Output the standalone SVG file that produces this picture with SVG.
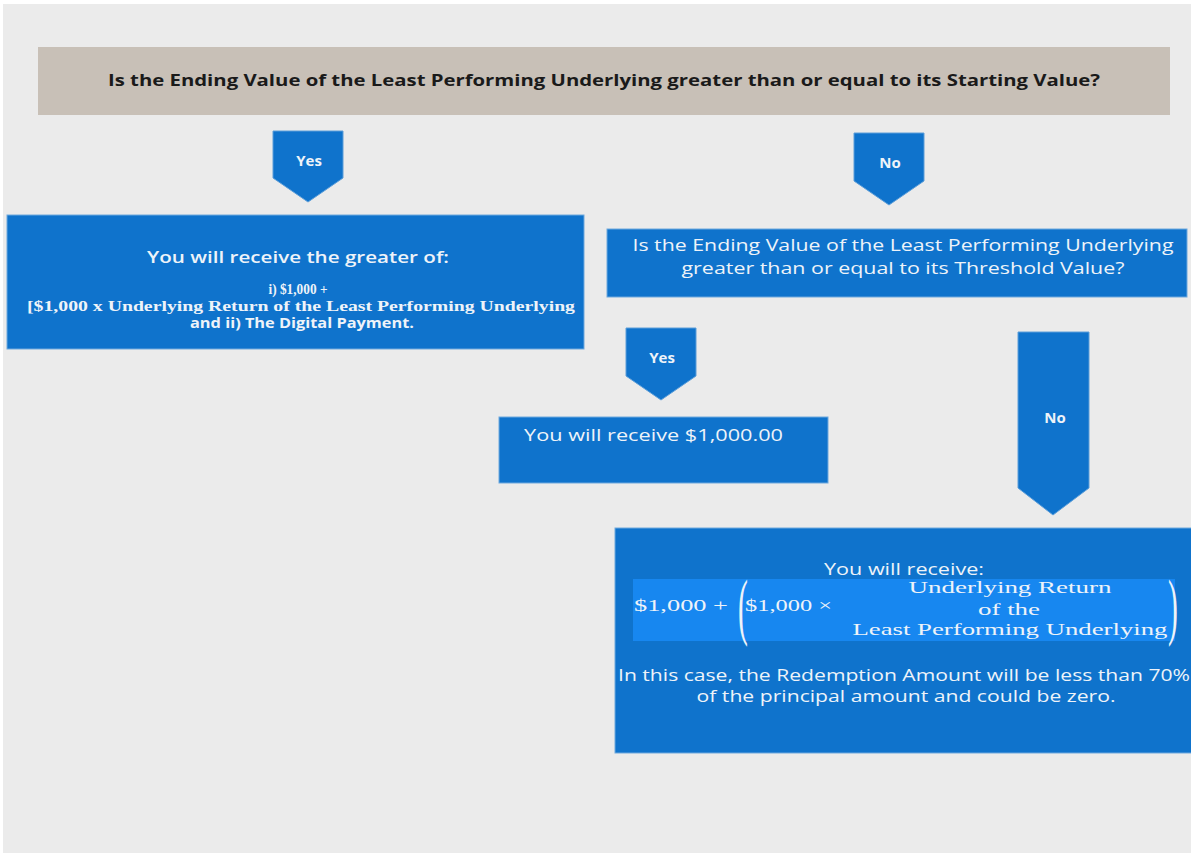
<svg xmlns="http://www.w3.org/2000/svg" width="1191" height="853" viewBox="0 0 1191 853">
<style>
.bg{fill:#ebebeb}
.top{fill:#c8c0b7}
.box{fill:#0f73cc;stroke:#6fa9de;stroke-width:1}
.arrow{fill:#0f73cc;stroke:#5c9ed9;stroke-width:1}
.band{fill:#1787f0}
.t{font-family:"Open Sans","Liberation Sans",sans-serif;fill:#eef3f9}
.tb{font-family:"Open Sans","Liberation Sans",sans-serif;font-weight:bold;fill:#1a1a1a}
.lbl{font-family:"Open Sans","Liberation Sans",sans-serif;font-weight:bold;fill:#eef3f9;font-size:15px;text-anchor:middle}
.s{font-family:"Liberation Serif","DejaVu Serif",serif;fill:#eef3f9}
</style>
<rect x="0" y="0" width="1191" height="853" fill="#ffffff"/>
<rect class="bg" x="3" y="4" width="1188" height="849"/>

<g id="q1">
<rect class="top" x="38" y="47" width="1132" height="68"/>
<text class="tb" x="604" y="86" font-size="16" text-anchor="middle" textLength="992" lengthAdjust="spacingAndGlyphs">Is the Ending Value of the Least Performing Underlying greater than or equal to its Starting Value?</text>
</g>

<g id="connectors">
<g id="yes1"><path class="arrow" d="M273,131 H343 V178 L308,202 L273,178 Z"/><text class="lbl" x="309" y="166">Yes</text></g>
<g id="no1"><path class="arrow" d="M854,133 H924 V181 L889,205 L854,181 Z"/><text class="lbl" x="890" y="168">No</text></g>
<g id="yes2"><path class="arrow" d="M626,328 H696 V376 L661,400 L626,376 Z"/><text class="lbl" x="662" y="363">Yes</text></g>
<g id="no2"><path class="arrow" d="M1018,332 H1089 V488 L1053,515 L1018,488 Z"/><text class="lbl" x="1055" y="423">No</text></g>
</g>

<g id="greater">
<rect class="box" x="7" y="215" width="577" height="134"/>
<text class="t" x="298" y="263" font-size="17" font-weight="600" text-anchor="middle" textLength="302" lengthAdjust="spacingAndGlyphs">You will receive the greater of:</text>
<text class="s" x="298" y="294" font-size="15" font-weight="bold" text-anchor="middle" textLength="59" lengthAdjust="spacingAndGlyphs">i) $1,000 +</text>
<text class="s" x="301" y="311" font-size="14" font-weight="bold" text-anchor="middle" textLength="548" lengthAdjust="spacingAndGlyphs">[$1,000 x Underlying Return of the Least Performing Underlying</text>
<text class="t" x="302" y="328" font-size="14" font-weight="bold" text-anchor="middle" textLength="224" lengthAdjust="spacingAndGlyphs">and ii) The Digital Payment.</text>
</g>

<g id="q2">
<rect class="box" x="607" y="229" width="580" height="68"/>
<text class="t" x="903" y="251" font-size="17" text-anchor="middle" textLength="541" lengthAdjust="spacingAndGlyphs">Is the Ending Value of the Least Performing Underlying</text>
<text class="t" x="903" y="274" font-size="17" text-anchor="middle" textLength="443" lengthAdjust="spacingAndGlyphs">greater than or equal to its Threshold Value?</text>
</g>

<g id="par">
<rect class="box" x="499" y="417" width="329" height="66"/>
<text class="t" x="524" y="441" font-size="17" textLength="259" lengthAdjust="spacingAndGlyphs">You will receive $1,000.00</text>
</g>

<g id="loss">
<rect class="box" x="615" y="528" width="580" height="225"/>
<text class="t" x="904" y="575" font-size="16" text-anchor="middle" textLength="160" lengthAdjust="spacingAndGlyphs">You will receive:</text>
<rect class="band" x="633" y="579" width="542" height="62"/>
<text class="s" x="634" y="611" font-size="17" textLength="94" lengthAdjust="spacingAndGlyphs">$1,000 +</text>
<text class="s" x="745" y="611" font-size="17" textLength="87" lengthAdjust="spacingAndGlyphs">$1,000 ×</text>
<text class="s" x="1010" y="593" font-size="16" text-anchor="middle" textLength="203" lengthAdjust="spacingAndGlyphs">Underlying Return</text>
<text class="s" x="1009" y="615" font-size="17" text-anchor="middle" textLength="62" lengthAdjust="spacingAndGlyphs">of the</text>
<text class="s" x="1010" y="635" font-size="17" text-anchor="middle" textLength="315" lengthAdjust="spacingAndGlyphs">Least Performing Underlying</text>
<text class="s" transform="translate(738,631) scale(0.4,1)" font-size="74">(</text>
<text class="s" transform="translate(1168,631) scale(0.4,1)" font-size="74">)</text>
<text class="t" x="618" y="681" font-size="17" textLength="572" lengthAdjust="spacingAndGlyphs">In this case, the Redemption Amount will be less than 70%</text>
<text class="t" x="906" y="702" font-size="17" text-anchor="middle" textLength="419" lengthAdjust="spacingAndGlyphs">of the principal amount and could be zero.</text>
</g>
</svg>
